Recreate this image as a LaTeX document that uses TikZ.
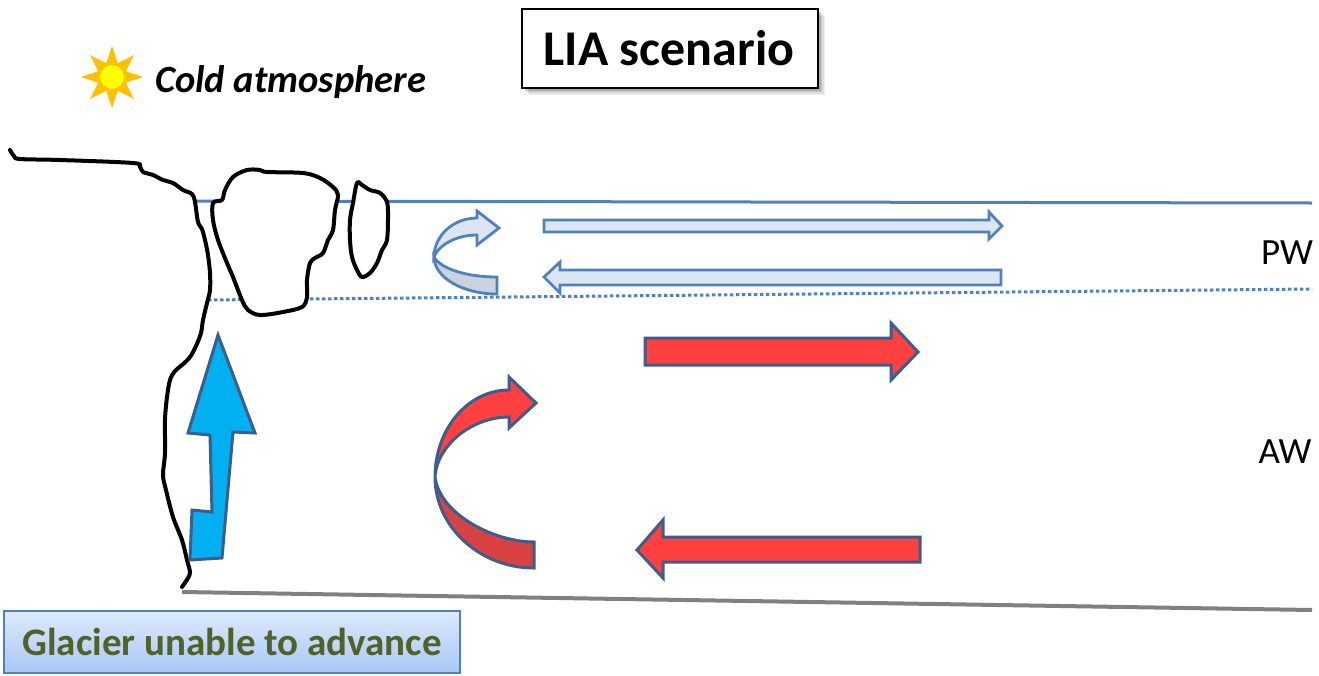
\documentclass[tikz,border=0pt]{standalone}
\usepackage{fontspec}
\setmainfont{Carlito}
\definecolor{lineblue}{HTML}{4F81BD}
\definecolor{edgeblue}{HTML}{3B5E8C}
\definecolor{paleblue}{HTML}{DCE6F2}
\definecolor{paleshade}{HTML}{C9D2DE}
\definecolor{warmred}{HTML}{FF4040}
\definecolor{deepred}{HTML}{D84242}
\definecolor{iceblue}{HTML}{00B0F0}
\definecolor{sunorange}{HTML}{FFC000}
\definecolor{sunyellow}{HTML}{FFFF00}
\definecolor{olivetext}{HTML}{4F6228}
\definecolor{boxtop}{HTML}{DEE9FB}
\definecolor{boxbottom}{HTML}{A8C7F7}
\definecolor{seabed}{HTML}{808080}
\tikzset{
  ice/.style={draw=black, line width=4pt, line cap=round, line join=round},
  pwarrow/.style={draw=lineblue, fill=paleblue, line width=2.8pt, line join=miter},
  awarrow/.style={draw=edgeblue, fill=warmred, line width=3pt, line join=miter},
  layerlabel/.style={font=\fontsize{37}{40}\selectfont, inner sep=0pt},
}
\begin{document}
\begin{tikzpicture}[x=1pt, y=-1pt]
\useasboundingbox (0,0) rectangle (1319,675);

% water layer boundaries
\draw[lineblue, line width=3pt] (195,201) -- (1312,203);
\draw[lineblue, line width=3pt, dash pattern=on 3.5pt off 2.5pt] (208,300) -- (1312,289);
\draw[seabed, line width=4pt] (182,592) -- (1312,610);

% glacier front
\draw[ice] plot[smooth, tension=0.55] coordinates {
  (10,150) (14,156) (20,159) (60,160) (133,163) (140,167) (143,172) (153,175)
  (163,180) (173,183) (183,190) (192,194) (195,202) (198,222) (202,229) (205,240)
  (208,255) (210,273) (210,290) (207,303) (203,320) (201,333) (196,346) (190,357)
  (182,365) (175,371) (170,380) (167,397) (165,420) (165,453) (163,475) (166,490)
  (173,517) (182,540) (187,560) (190,572) (188,578) (182,587)};

% icebergs
\filldraw[ice, fill=white] plot[smooth cycle, tension=0.55] coordinates {
  (213,203) (222,200) (225,190) (233,177) (247,170) (260,170) (267,172) (303,173)
  (320,178) (333,187) (338,195) (335,210) (333,230) (328,240) (323,253) (315,258)
  (310,263) (307,280) (307,297) (302,307) (283,312) (260,315) (248,310) (242,300)
  (233,277) (227,263) (218,240) (213,220)};
\filldraw[ice, fill=white] plot[smooth cycle, tension=0.55] coordinates {
  (357,183) (362,185) (370,190) (380,193) (387,202) (388,217) (387,240) (382,250)
  (377,263) (370,273) (362,277) (357,270) (352,257) (350,240) (350,220) (353,203)};

% sun
\fill[sunorange] (112,77) +(0:31)
  \foreach \a in {22.5,67.5,...,337.5} { -- +(\a:15) -- +(\a+22.5:31) } -- cycle;
\filldraw[fill=sunyellow, draw=sunorange, line width=1pt] (112,77) circle (12.5);
\node[anchor=west, font=\fontsize{38.5}{42}\selectfont\bfseries\itshape, inner sep=0pt] (cold) at (155,82) {Cold atmosphere};

% title box with soft shadow
\foreach \d/\o in {7/0.06,5.5/0.08,4/0.1,2.5/0.12}
  \fill[black, opacity=\o] (522+\d,9+\d) rectangle (818+\d,88+\d);
\filldraw[fill=white, draw=black, line width=1.3pt] (522,9) rectangle (818,88);
\node[font=\fontsize{50}{54}\selectfont\bfseries, inner sep=0pt] (title) at (669,48) {LIA scenario};

% layer labels
\node[layerlabel] (pw) at (1287,253) {PW};
\node[layerlabel] (aw) at (1285,452) {AW};

% glacier thrust arrow
\filldraw[draw=edgeblue, fill=iceblue, line width=3pt, line join=miter]
  (218,335) -- (255,433) -- (233,432) -- (222,558) -- (190,560) -- (192,510)
  -- (212,512) -- (210,435) -- (188,433) -- cycle;

% polar water circulation
\filldraw[pwarrow] (544,220) -- (989,220) -- (989,212) -- (1002,226) -- (989,239)
  -- (989,232) -- (544,232) -- cycle;
\filldraw[pwarrow] (1001,270) -- (560,270) -- (560,262) -- (544,277) -- (560,293)
  -- (560,285) -- (1001,285) -- cycle;
\filldraw[pwarrow, fill=paleshade] (434,257) .. controls (434,277) and (462,294) .. (497,294)
  -- (497,277) .. controls (465,277) and (440,268) .. (434,257) -- cycle;
\filldraw[pwarrow] (434,257) .. controls (434,236) and (453,218) .. (477,218)
  -- (477,211) -- (499,228) -- (477,245) -- (477,235)
  .. controls (455,235) and (438,246) .. (434,257) -- cycle;

% atlantic water circulation
\filldraw[awarrow] (645,338) -- (891,338) -- (891,323) -- (918,352) -- (891,380)
  -- (891,365) -- (645,365) -- cycle;
\filldraw[awarrow] (920,537) -- (663,537) -- (663,520) -- (637,550) -- (663,578)
  -- (663,562) -- (920,562) -- cycle;
\filldraw[awarrow, fill=deepred] (435,477) .. controls (435,527) and (480,568) .. (534,568)
  -- (534,542) .. controls (495,542) and (440,515) .. (435,477) -- cycle;
\filldraw[awarrow] (435,477) .. controls (435,429) and (468,390) .. (509,390)
  -- (509,377) -- (536,403) -- (509,428) -- (509,417)
  .. controls (472,417) and (437,445) .. (435,477) -- cycle;

% caption box
\node[draw=lineblue, line width=1.2pt, top color=boxtop, bottom color=boxbottom,
  minimum width=456pt, minimum height=62pt, inner sep=0pt,
  text=olivetext, font=\fontsize{39}{42}\selectfont\bfseries] (caption) at (232,642)
  {Glacier unable to advance};
\end{tikzpicture}
\end{document}
